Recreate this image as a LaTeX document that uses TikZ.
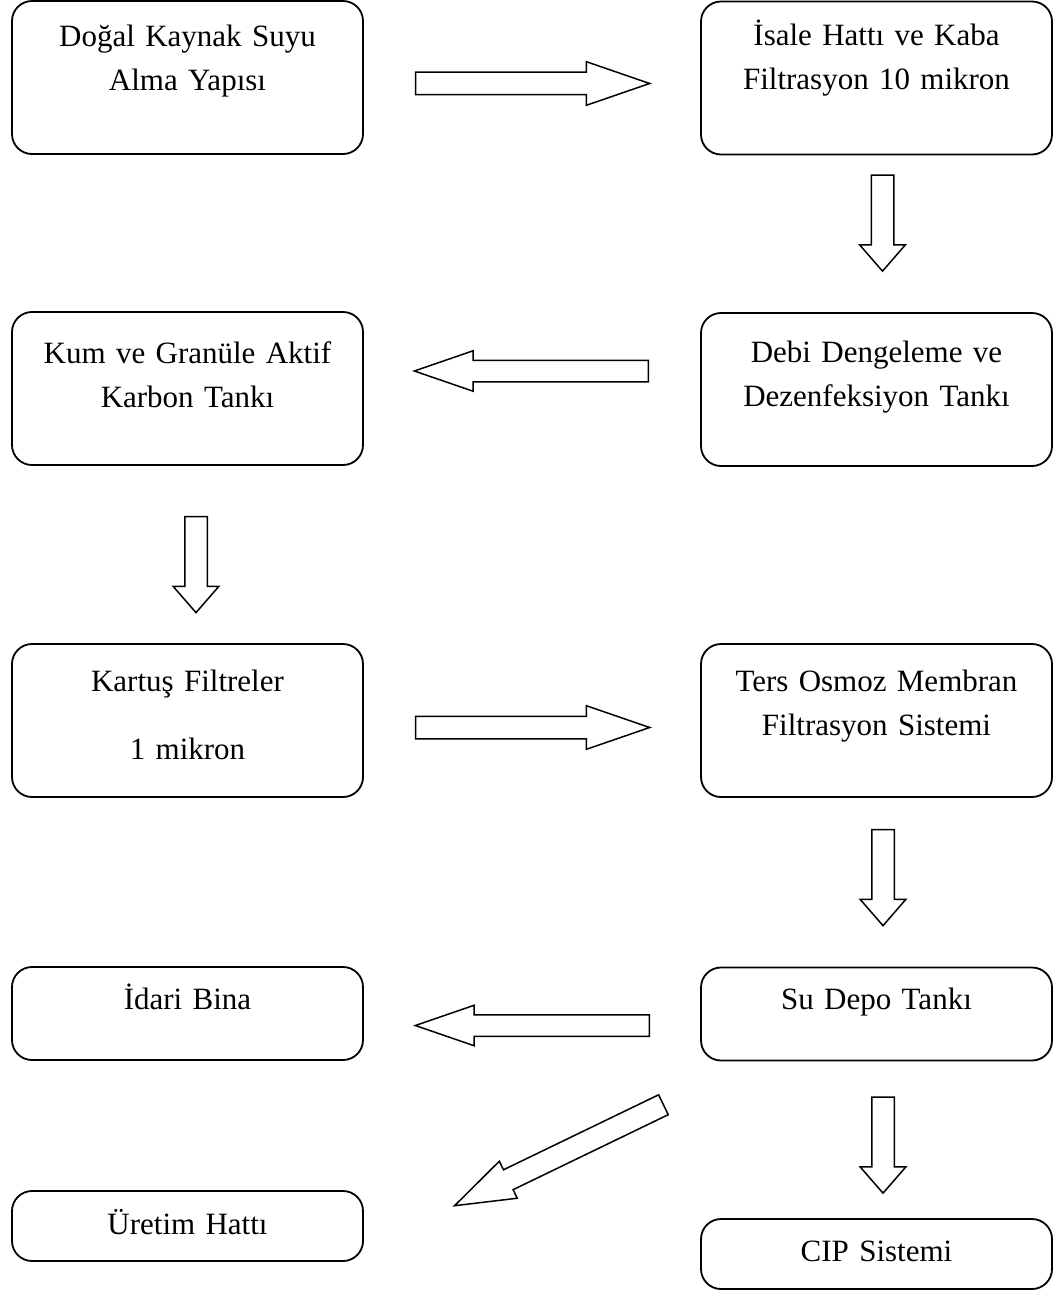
\documentclass[tikz,border=0pt]{standalone}
\usepackage{fontspec}
\setmainfont{Liberation Serif}
\usepackage{tikz}
\usetikzlibrary{calc,shapes.arrows}
\definecolor{ink}{HTML}{000000}
\tikzset{
  box/.style={draw=ink, rounded corners=20pt, line width=1.8pt, minimum width=351pt, inner sep=0pt},
  tall/.style={box, minimum height=153pt},
  low/.style={box, minimum height=93pt},
  flat/.style={box, minimum height=70pt},
  txt/.style={anchor=base, text width=345pt, align=center, inner sep=0pt, font=\fontsize{31}{44}\selectfont},
  fat/.style={single arrow, draw=ink, line width=1.5pt, anchor=tail, inner xsep=0pt, inner ysep=10.5pt, single arrow head indent=0pt},
  hfat/.style={fat, minimum height=234pt, single arrow head extend=10.5pt, single arrow tip angle=38},
  vfat/.style={fat, rotate=-90, minimum height=96pt, single arrow head extend=11.5pt, single arrow tip angle=82}
}

\begin{document}
\begin{tikzpicture}[x=1pt, y=-1pt]
  \useasboundingbox (0,0) rectangle (1060,1292);

  % process boxes, left and right column
  \node[tall] (src)    at (187.5,77.5)  {};
  \node[tall] (isale)  at (876.5,78)    {};
  \node[tall] (debi)   at (876.5,389.5) {};
  \node[tall] (kum)    at (187.5,388.5) {};
  \node[tall] (kartus) at (187.5,720.5) {};
  \node[tall] (ters)   at (876.5,720.5) {};
  \node[low]  (idari)  at (187.5,1013.5) {};
  \node[low]  (depo)   at (876.5,1014)  {};
  \node[flat] (uretim) at (187.5,1226)  {};
  \node[flat] (cip)    at (876.5,1254)  {};

  % texts sit near the top of each box
  \node[txt] (srcT)    at ([yshift=-46pt]src.north)    {Doğal Kaynak Suyu\\Alma Yapısı};
  \node[txt] (isaleT)  at ([yshift=-45pt]isale.north)  {İsale Hattı ve Kaba\\Filtrasyon 10 mikron};
  \node[txt] (debiT)   at ([yshift=-50pt]debi.north)   {Debi Dengeleme ve\\Dezenfeksiyon Tankı};
  \node[txt] (kumT)    at ([yshift=-52pt]kum.north)    {Kum ve Granüle Aktif\\Karbon Tankı};
  \node[txt] (kartusT) at ([yshift=-48pt]kartus.north) {Kartuş Filtreler\\[24pt]1 mikron};
  \node[txt] (tersT)   at ([yshift=-48pt]ters.north)   {Ters Osmoz Membran\\Filtrasyon Sistemi};
  \node[txt] (idariT)  at ([yshift=-43pt]idari.north)  {İdari Bina};
  \node[txt] (depoT)   at ([yshift=-43pt]depo.north)   {Su Depo Tankı};
  \node[txt] (uretimT) at ([yshift=-44pt]uretim.north) {Üretim Hattı};
  \node[txt] (cipT)    at ([yshift=-43pt]cip.north)    {CIP Sistemi};

  % block arrows, placed by their tail
  \node[hfat] (a1) at ($(src.east)+(51,6)$) {};
  \node[vfat] (a2) at ($(isale.south)+(6,19)$) {};
  \node[hfat, rotate=180, inner ysep=10pt, single arrow head extend=9.5pt] (a3) at ($(debi.west)+(-51,-18.5)$) {};
  \node[vfat] (a4) at ($(kum.south)+(8.5,50)$) {};
  \node[hfat] (a5) at ($(kartus.east)+(51,7)$) {};
  \node[vfat] (a6) at ($(ters.south)+(6.5,31)$) {};
  \node[hfat, rotate=180, inner ysep=10pt, single arrow head extend=9.5pt] (a7) at ($(depo.west)+(-50,11.5)$) {};
  \node[vfat] (a8) at ($(depo.south)+(6.5,35)$) {};
  \node[hfat, minimum height=232pt, rotate=205.8, inner ysep=10.3pt, single arrow head extend=9.5pt] (a9) at ($(depo.south west)+(-36,43)$) {};
\end{tikzpicture}
\end{document}
